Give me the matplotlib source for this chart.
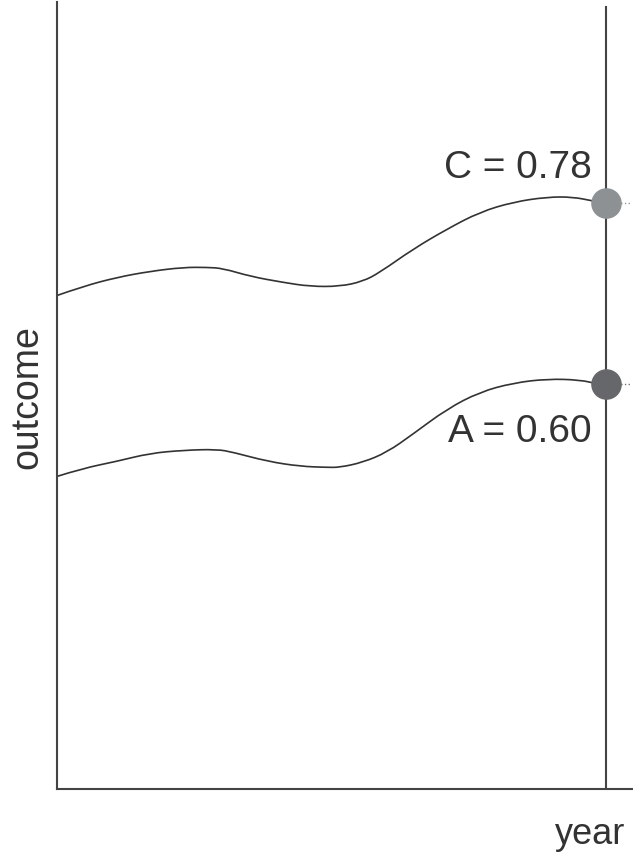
import matplotlib
matplotlib.use("Agg")
import matplotlib.pyplot as plt
from matplotlib.path import Path
from matplotlib.patches import PathPatch

plt.rcParams['font.family'] = ['Liberation Sans', 'DejaVu Sans']

# curve C (upper) and curve A (lower)
year_c = [0, 4.7, 10.9, 16.9, 23.0, 27.3, 30.2, 35.2, 41.2, 46.1, 51.5,
          55.7, 58.8, 64.8, 71.0, 77.0, 83.1, 89.3, 94.0, 97.6, 100]
outcome_c = [0.688, 0.697, 0.706, 0.712, 0.716, 0.716, 0.715, 0.707, 0.701, 0.697, 0.697,
             0.702, 0.711, 0.734, 0.754, 0.771, 0.781, 0.786, 0.786, 0.782, 0.78]

year_a = [0, 4.7, 10.9, 16.9, 23.0, 29.1, 32.1, 38.3, 44.3, 49.2, 51.5,
          55.7, 60.1, 64.8, 71.0, 77.0, 83.1, 89.3, 95.3, 98.4, 100]
outcome_a = [0.508, 0.516, 0.523, 0.531, 0.534, 0.535, 0.532, 0.523, 0.518, 0.517, 0.517,
             0.522, 0.532, 0.550, 0.575, 0.592, 0.601, 0.605, 0.604, 0.600, 0.600]

end_year = 100
c_end = 0.78
a_end = 0.60


def smooth_curve(xs, ys):
    # quadratic bezier through midpoints, read points act as control points
    verts = [(xs[0], ys[0])]
    codes = [Path.MOVETO]
    for i in range(1, len(xs) - 1):
        verts.append((xs[i], ys[i]))
        verts.append(((xs[i] + xs[i + 1]) / 2, (ys[i] + ys[i + 1]) / 2))
        codes += [Path.CURVE3, Path.CURVE3]
    verts.append((xs[-1], ys[-1]))
    codes.append(Path.LINETO)
    return Path(verts, codes)


fig = plt.figure(figsize=(6.33, 8.54), dpi=100)
ax = fig.add_axes([57 / 633, 64 / 854, 576 / 633, 787 / 854])

ax.set_xlim(0, 104.9)
ax.set_ylim(0.197, 0.98)

line_col = '#333333'
ax.add_patch(PathPatch(smooth_curve(year_c, outcome_c), fill=False, ec=line_col, lw=1.2, zorder=2))
ax.add_patch(PathPatch(smooth_curve(year_a, outcome_a), fill=False, ec=line_col, lw=1.2, zorder=2))

# vertical line at the final year
ax.plot([end_year, end_year], [0.197, 0.975], color='#444444', lw=1.5, zorder=1)

# short dotted stubs right of the end markers
ax.plot([end_year, 104.5], [c_end, c_end], color='#999999', lw=1, ls=':', zorder=1)
ax.plot([end_year, 104.5], [a_end, a_end], color='#777777', lw=1, ls=':', zorder=1)

ax.plot([end_year], [c_end], 'o', color='#8e9194', ms=21, zorder=3)
ax.plot([end_year], [a_end], 'o', color='#66676b', ms=21, zorder=3)

ax.text(97.4, 0.816, 'C = 0.78', ha='right', va='center', fontsize=28, color='#333333')
ax.text(97.4, 0.553, 'A = 0.60', ha='right', va='center', fontsize=28, color='#333333')

for s in ['top', 'right']:
    ax.spines[s].set_visible(False)
for s in ['left', 'bottom']:
    ax.spines[s].set_color('#444444')
    ax.spines[s].set_linewidth(1.5)
ax.set_xticks([])
ax.set_yticks([])

ax.text(0.986, -0.057, 'year', transform=ax.transAxes, ha='right', va='center',
        fontsize=26, color='#333333')
ax.text(-0.052, 0.499, 'outcome', transform=ax.transAxes, ha='center', va='center',
        rotation=90, fontsize=27, color='#333333')

fig.savefig('out.png', dpi=100)
